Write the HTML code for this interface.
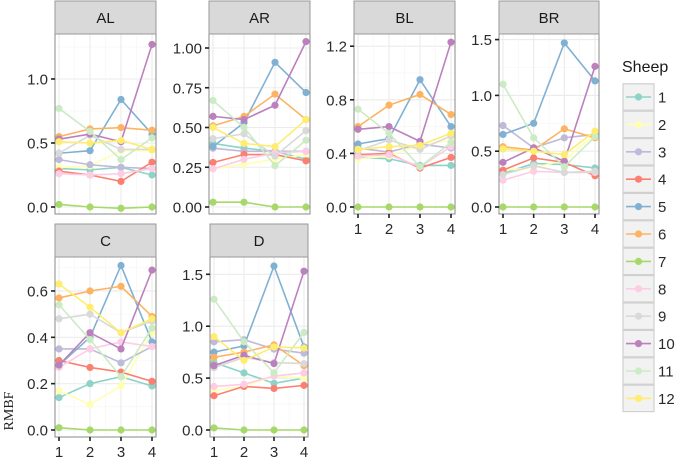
<!DOCTYPE html>
<html><head><meta charset="utf-8">
<style>
html,body{margin:0;padding:0;background:#fff;}
svg{display:block;font-family:"Liberation Sans",sans-serif;}
</style></head>
<body>
<svg id="chart" width="685" height="461" viewBox="0 0 685 461" xmlns="http://www.w3.org/2000/svg">
<text transform="translate(13,411) rotate(-90)" text-anchor="middle" font-family="Liberation Serif, serif" font-size="14" fill="#222">RMBF</text>
<g id="legend"></g>
</svg>
<script>
const times = [1, 2, 3, 4];
const sheep = ["1","2","3","4","5","6","7","8","9","10","11","12"];
const colors = ["#8DD3C7","#FFFFB3","#BEBADA","#FB8072","#80B1D3","#FDB462","#A6D96A","#FCCDE5","#D9D9D9","#BC80BD","#CCEBC5","#FFED6F"];
const facets = ["AL","AR","BL","BR","C","D"];

const valsAL = [
 [0.30,0.29,0.31,0.25],[0.31,0.32,0.44,0.44],[0.37,0.33,0.31,0.30],[0.28,0.25,0.20,0.35],
 [0.42,0.44,0.84,0.57],[0.55,0.61,0.62,0.60],[0.02,0.00,-0.01,0.00],[0.26,0.25,0.26,0.30],
 [0.42,0.56,0.45,0.45],[0.53,0.57,0.51,1.27],[0.77,0.59,0.37,0.54],[0.51,0.50,0.52,0.45]];
const valsAR = [
 [0.40,0.37,0.35,0.30],[0.24,0.27,0.30,0.33],[0.37,0.35,0.35,0.35],[0.28,0.33,0.33,0.29],
 [0.38,0.53,0.91,0.72],[0.51,0.57,0.71,0.55],[0.03,0.03,0.00,0.00],[0.24,0.30,0.34,0.35],
 [0.43,0.46,0.32,0.48],[0.57,0.55,0.64,1.04],[0.67,0.50,0.26,0.42],[0.50,0.40,0.38,0.55]];
const valsBL = [
 [0.37,0.36,0.31,0.31],[0.36,0.38,0.46,0.50],[0.44,0.41,0.47,0.44],[0.39,0.40,0.29,0.37],
 [0.47,0.51,0.95,0.60],[0.60,0.76,0.84,0.69],[0.00,0.00,0.00,0.00],[0.38,0.39,0.30,0.45],
 [0.42,0.50,0.43,0.53],[0.58,0.60,0.49,1.23],[0.73,0.55,0.30,0.48],[0.43,0.45,0.46,0.55]];
const valsBR = [
 [0.30,0.39,0.38,0.35],[0.33,0.35,0.42,0.65],[0.73,0.53,0.62,0.65],[0.33,0.44,0.40,0.28],
 [0.65,0.75,1.47,1.13],[0.54,0.51,0.70,0.62],[0.00,0.00,0.00,0.00],[0.24,0.32,0.31,0.31],
 [0.29,0.37,0.31,0.32],[0.40,0.53,0.41,1.26],[1.10,0.62,0.36,0.63],[0.52,0.50,0.47,0.68]];
const valsC = [
 [0.14,0.20,0.23,0.19],[0.17,0.11,0.19,0.42],[0.35,0.35,0.29,0.36],[0.30,0.27,0.25,0.21],
 [0.28,0.40,0.71,0.38],[0.57,0.60,0.62,0.49],[0.01,0.00,0.00,0.00],[0.27,0.35,0.38,0.36],
 [0.48,0.50,0.42,0.47],[0.28,0.42,0.35,0.69],[0.54,0.39,0.23,0.44],[0.63,0.53,0.42,0.48]];
const valsD = [
 [0.65,0.55,0.45,0.50],[0.38,0.42,0.52,0.50],[0.85,0.87,0.78,0.74],[0.33,0.42,0.40,0.43],
 [0.75,0.81,1.58,0.80],[0.70,0.75,0.82,0.62],[0.02,0.00,0.00,0.00],[0.42,0.44,0.52,0.55],
 [0.60,0.70,0.65,0.64],[0.62,0.72,0.64,1.53],[1.26,0.85,0.55,0.94],[0.90,0.67,0.80,0.79]];
const ticksAL = ["0.0","0.5","1.0"];
const ticksAR = ["0.00","0.25","0.50","0.75","1.00"];
const ticksBL = ["0.0","0.4","0.8","1.2"];
const ticksBR = ["0.0","0.5","1.0","1.5"];
const ticksC = ["0.0","0.2","0.4","0.6"];
const ticksD = ["0.0","0.5","1.0","1.5"];

const svg = document.getElementById('chart');
const NS = "http://www.w3.org/2000/svg";
function mk(tag, attrs, parent){
  const e = document.createElementNS(NS, tag);
  for (const k in attrs) e.setAttribute(k, attrs[k]);
  (parent||svg).appendChild(e);
  return e;
}
const layouts = [
 {name:"AL", vals:valsAL, ticks:ticksAL, x0:55,x1:156,top:34,bot:214,zero:207,scale:128,xaxis:false},
 {name:"AR", vals:valsAR, ticks:ticksAR, x0:209,x1:310,top:34,bot:214,zero:207,scale:159,xaxis:false},
 {name:"BL", vals:valsBL, ticks:ticksBL, x0:354,x1:455,top:34,bot:214,zero:207,scale:134,xaxis:true},
 {name:"BR", vals:valsBR, ticks:ticksBR, x0:499,x1:599,top:34,bot:214,zero:207,scale:111.6,xaxis:true},
 {name:"C", vals:valsC, ticks:ticksC, x0:55,x1:156,top:257,bot:437,zero:430,scale:231.7,xaxis:true},
 {name:"D", vals:valsD, ticks:ticksD, x0:210,x1:308,top:257,bot:437,zero:430,scale:103.8,xaxis:true}
];
layouts.forEach(L=>{
  const g = mk('g',{});
  
  
  const xs = v => L.x0 + 4 + (v-1)*(L.x1-L.x0-8)/3;
  const ys = v => L.zero - v*L.scale;
  mk('rect',{x:L.x0,y:L.top,width:L.x1-L.x0,height:L.bot-L.top,fill:'#fff'},g);
  const tv = L.ticks.map(Number);
  const step = tv[1]-tv[0];
  for (let v=tv[0]-step/2; ys(v)>=L.top; v+=step/2){
    const y=ys(v); if (y>L.bot) continue;
    const major = Math.abs(Math.round(v/step)*step - v) < 1e-6;
    mk('line',{x1:L.x0,x2:L.x1,y1:y,y2:y,stroke:major?'#ebebeb':'#f5f5f5','stroke-width':major?1.1:0.6},g);
  }
  [1,1.5,2,2.5,3,3.5,4].forEach(t=>{
    const major = Number.isInteger(t);
    mk('line',{x1:xs(t),x2:xs(t),y1:L.top,y2:L.bot,stroke:major?'#ebebeb':'#f5f5f5','stroke-width':major?1.1:0.6},g);
  });
  L.vals.forEach((row,si)=>{
    const sg = mk('g',{},g);
    
    
    mk('polyline',{points:row.map((v,i)=>xs(times[i])+','+ys(v)).join(' '),fill:'none',stroke:colors[si],'stroke-width':1.6},sg);
    row.forEach((v,i)=>{
      const c = mk('circle',{cx:xs(times[i]),cy:ys(v),r:3.6,fill:colors[si]},sg);
      
      
    });
  });
  mk('rect',{x:L.x0,y:L.top,width:L.x1-L.x0,height:L.bot-L.top,fill:'none',stroke:'#888','stroke-width':1},g);
  const s = mk('rect',{x:L.x0,y:L.top-33,width:L.x1-L.x0,height:33,fill:'#d9d9d9',stroke:'#999','stroke-width':1},g);
  
  
  const st = mk('text',{x:(L.x0+L.x1)/2,y:L.top-11,'text-anchor':'middle','font-size':15,fill:'#1a1a1a'},g);
  st.textContent = L.name;
  
  
  L.ticks.forEach(t=>{
    const y = ys(Number(t));
    mk('line',{x1:L.x0-4,x2:L.x0,y1:y,y2:y,stroke:'#222','stroke-width':1.6},g);
    const tx = mk('text',{x:L.x0-7,y:y+5.5,'text-anchor':'end','font-size':15,fill:'#2a2a2a'},g);
    tx.textContent = t;
    
    
  });
  if (L.xaxis){
    times.forEach(t=>{
      mk('line',{x1:xs(t),x2:xs(t),y1:L.bot,y2:L.bot+4,stroke:'#222','stroke-width':1.6},g);
      const tx = mk('text',{x:xs(t),y:L.bot+20,'text-anchor':'middle','font-size':15,fill:'#2a2a2a'},g);
      tx.textContent = String(t);
      
      
    });
  }
});
const lg = document.getElementById('legend');
const lt = mk('text',{x:622,y:72,'font-size':16,fill:'#1a1a1a'},lg);
lt.textContent = "Sheep";


sheep.forEach((s,i)=>{
  const cy = 97 + i*27.4;
  const eg = mk('g',{},lg);
  
  
  mk('rect',{x:623,y:cy-13.2,width:31,height:26.4,fill:'#f2f2f2',stroke:'#d0d0d0','stroke-width':1.2},eg);
  mk('line',{x1:626,x2:651,y1:cy,y2:cy,stroke:colors[i],'stroke-width':1.6},eg);
  mk('circle',{cx:638.5,cy:cy,r:3.6,fill:colors[i]},eg);
  const t = mk('text',{x:658,y:cy+5.5,'font-size':15,fill:'#2a2a2a'},eg);
  t.textContent = s;
});
</script>
</body></html>
